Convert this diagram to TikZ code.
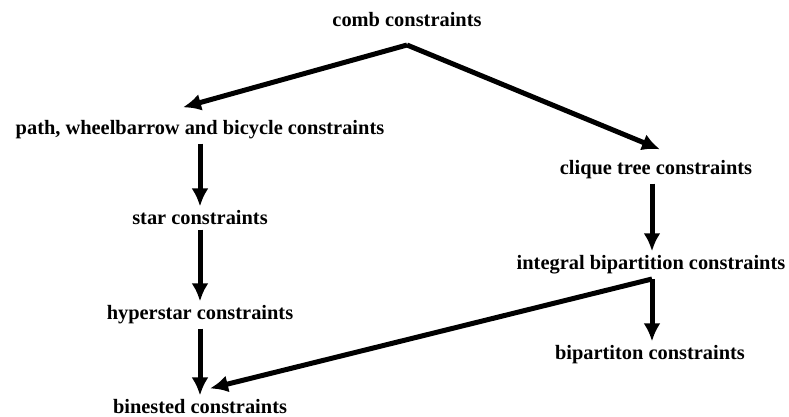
\documentclass[tikz,border=0pt]{standalone}
\usepackage{fontspec}
\setmainfont{Liberation Serif}
\usetikzlibrary{arrows.meta}

\begin{document}
\begin{tikzpicture}[x=0.5pt, y=-0.5pt,
    lbl/.style={font=\fontsize{10.2}{12}\bfseries, inner sep=2pt},
    arr/.style={line width=2.5pt, -{Latex[length=9pt,width=8.5pt]}}]

  \useasboundingbox (0,0) rectangle (789,417);

  % left column
  \node[lbl] (comb)      at (407,20)  {comb constraints};
  \node[lbl] (pathwb)    at (200,130) {path, wheelbarrow and bicycle constraints};
  \node[lbl] (star)      at (200,218) {star constraints};
  \node[lbl] (hyperstar) at (200,315) {hyperstar constraints};
  \node[lbl] (binested)  at (200,407) {binested constraints};

  % right column
  \node[lbl] (clique)    at (656,170) {clique tree constraints};
  \node[lbl] (integral)  at (651,265) {integral bipartition constraints};
  \node[lbl] (bipart)    at (650,355) {bipartiton constraints};

  \coordinate (combfork) at (407,45);
  \coordinate (intfork)  at (652,279);

  \draw[arr] (combfork) -- ([xshift=-8.5pt,yshift=4.5pt]pathwb.north);
  \draw[arr] (combfork) -- ([xshift=2pt,yshift=3.5pt]clique.north);

  \draw[arr] (pathwb) -- (star);
  \draw[arr] (star) -- (hyperstar);
  \draw[arr] (hyperstar) -- (binested);

  \draw[arr] (intfork |- clique.south) -- (intfork |- integral.north);
  \draw[arr] (intfork) -- (intfork |- bipart.north);
  \draw[arr] (intfork) -- ([xshift=5pt,yshift=3.5pt]binested.north);

\end{tikzpicture}
\end{document}
